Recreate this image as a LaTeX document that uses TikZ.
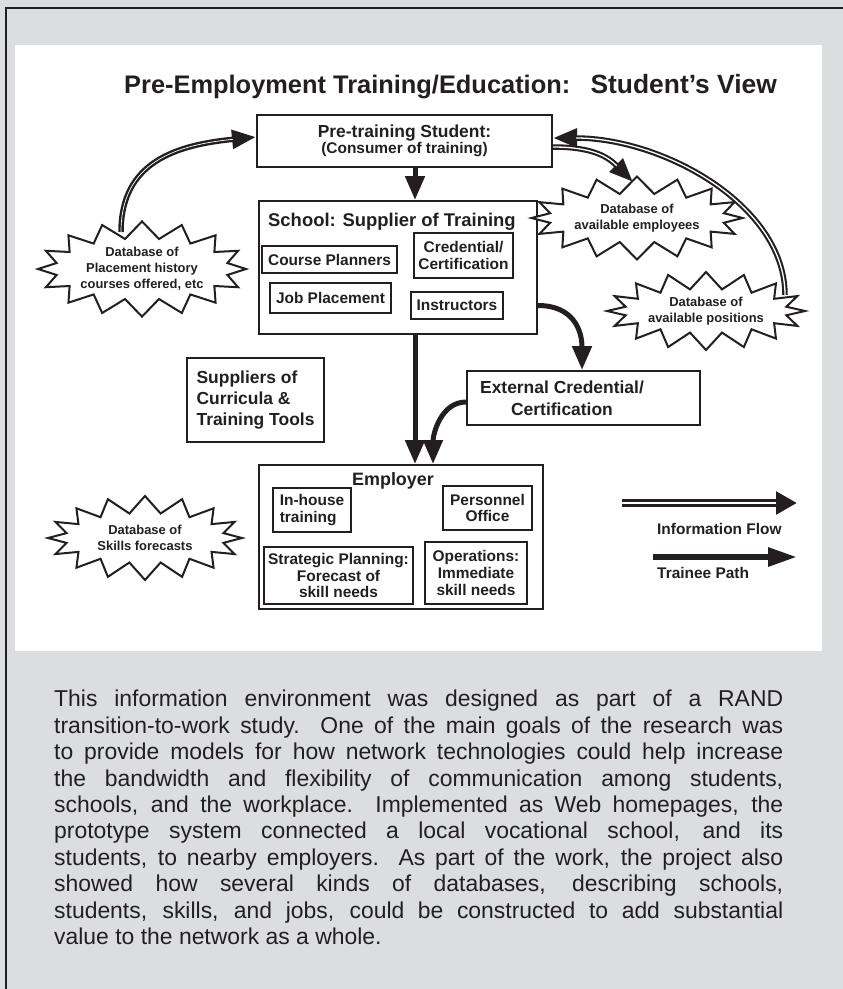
\documentclass[tikz,border=0pt]{standalone}
\usepackage{fontspec}
\setmainfont{Liberation Sans}
\usetikzlibrary{arrows.meta,shapes.symbols,calc}
\definecolor{bg}{RGB}{220,221,223}
\definecolor{ink}{RGB}{35,31,32}
\newcommand{\fs}[2]{\fontsize{#1}{#2}\selectfont}
\begin{document}
\begin{tikzpicture}[x=1bp,y=-1bp,
  box/.style={draw=ink, line width=2bp, fill=white, inner sep=0pt, text=ink, font=\bfseries, align=center},
  lbl/.style={inner sep=0pt, text=ink, font=\bfseries},
  sub/.style={box, font=\bfseries\fs{15.5}{18}},
  esub/.style={box, font=\bfseries\fs{15.5}{17}},
  burst/.style={starburst, starburst points=16, starburst point height=17bp, random starburst=0, draw=ink, line width=2bp, fill=white, inner sep=0pt, text=ink, align=center, font=\bfseries\fs{13}{16}},
  trainee/.style={draw=ink, line width=5bp, -{Triangle[length=24bp,width=19bp]}},
  infoA/.style={draw=ink, line width=5.5bp, -{Triangle[length=24bp,width=18bp]}},
  infoB/.style={draw=white, line width=1.3bp, shorten >=23bp},
  infoC/.style={draw=white, line width=0.7bp, shorten >=23bp}
]
\useasboundingbox (0,0) rectangle (843,989);
\fill[bg] (0,0) rectangle (843,989);
\fill[white] (15,45) rectangle (822,651);
\draw[ink, line width=2.5bp] (6,989) -- (6,8) -- (843,8);

% title
\node[lbl, anchor=base west, font=\bfseries\fs{25.5}{29}] (title) at (124,93) {Pre-Employment Training/Education:\hspace{0.8em}{\fs{26.5}{29}Student’s View}};

% student
\node[box, minimum width=295bp, minimum height=52bp] (top) at (404.5,141) {\fs{17.5}{20}Pre-training Student:\\\fs{15.5}{19}(Consumer of training)};

% school
\node[box, minimum width=278bp, minimum height=133bp] (school) at (398,267.5) {};
\node[lbl, anchor=west, font=\bfseries\fs{18.5}{22}] (schooltitle) at (268,222) {School: Supplier of Training};
\node[sub, minimum width=135bp, minimum height=27bp] (planners) at (329.5,259.5) {Course Planners};
\node[sub, minimum width=121bp, minimum height=30bp] (jobs) at (330.5,298) {Job Placement};
\node[sub, minimum width=99bp, minimum height=45bp] (cred) at (463.5,255.5) {Credential/\\Certification};
\node[sub, minimum width=92bp, minimum height=27bp] (instr) at (457,305.5) {Instructors};

% suppliers
\node[box, minimum width=137bp, minimum height=84bp, align=left, font=\bfseries\fs{17.5}{21}] (suppliers) at (255.5,400) {Suppliers of\\Curricula \&\\Training Tools};

% external
\node[box, minimum width=233bp, minimum height=54bp] (ext) at (583.5,398) {};
\node[lbl, align=center, font=\bfseries\fs{17.5}{22.5}] (exttext) at (562,398) {External Credential/\\Certification};

% employer
\node[box, minimum width=284bp, minimum height=144bp] (employer) at (401,537) {};
\node[lbl, font=\bfseries\fs{18}{21}] (emptitle) at (393,481) {Employer};
\node[esub, minimum width=78bp, minimum height=44bp, align=left] (inhouse) at (312,510) {In-house\\training};
\node[esub, minimum width=89bp, minimum height=44bp] (personnel) at (487.5,508) {Personnel\\Office};
\node[esub, minimum width=149bp, minimum height=57bp] (strategic) at (338.5,575.5) {Strategic Planning:\\Forecast of\\skill needs};
\node[esub, minimum width=102bp, minimum height=62bp] (operations) at (476,573) {Operations:\\Immediate\\skill needs};

% starbursts
\node[burst, minimum width=186bp, minimum height=84bp] (dbplace) at (142,269) {Database of\\Placement history\\courses offered, etc};
\node[burst, minimum width=186bp, minimum height=83bp] (dbemp) at (637,218) {Database of\\available employees};
\node[burst, minimum width=187bp, minimum height=78bp] (dbpos) at (706,311) {Database of\\available positions};
\node[burst, minimum width=194bp, minimum height=84bp] (dbskill) at (145,538) {Database of\\Skills forecasts};

% trainee path connectors
\coordinate (ax) at (415,0);
\draw[trainee] (ax |- top.south) -- (ax |- school.north);
\draw[trainee] (ax |- school.south) -- (ax |- employer.north);
\coordinate (ex) at (582,0);
\coordinate (i1) at (school.east |- instr.east);
\coordinate (i2) at (ex |- ext.north);
\draw[trainee] (i1) .. controls ($(i1)+(35,0)$) and ($(i2)+(0,-40)$) .. (i2);
\coordinate (ey) at (433,0);
\coordinate (e1) at ($(ext.west)+(0,4)$);
\coordinate (e2) at (ey |- employer.north);
\draw[trainee] (e1) .. controls ($(e1)+(-25,0)$) and ($(e2)+(0,-30)$) .. (e2);

% information flow connectors
\coordinate (p1) at ($(dbplace.center)+(-21,-37)$);
\coordinate (p2) at ($(top.west)+(0,-4)$);
\draw[infoA] (p1) .. controls ($(p1)+(0,-70)$) and ($(p2)+(-80,8)$) .. (p2);
\draw[infoC] (p1) .. controls ($(p1)+(0,-70)$) and ($(p2)+(-80,8)$) .. (p2);
\coordinate (m1) at ($(top.east)+(0,6)$);
\coordinate (m2) at ($(dbemp.center)+(-4,-36)$);
\draw[infoA] (m1) .. controls ($(m1)+(40,0)$) and ($(m2)+(-25,-25)$) .. (m2);
\draw[infoB] (m1) .. controls ($(m1)+(40,0)$) and ($(m2)+(-25,-25)$) .. (m2);
\coordinate (q1) at ($(dbpos.center)+(79,-16)$);
\coordinate (q2) at ($(top.east)+(0,-3)$);
\draw[infoA] (q1) .. controls ($(q1)+(0,-90)$) and ($(q2)+(110,0)$) .. (q2);
\draw[infoB] (q1) .. controls ($(q1)+(0,-90)$) and ($(q2)+(110,0)$) .. (q2);

% legend
\coordinate (if1) at (622,503);
\coordinate (if2) at (797,503);
\draw[ink, line width=8bp, -{Triangle[length=21bp,width=22bp]}] (if1) -- (if2);
\draw[white, line width=2.5bp, shorten >=21bp] (if1) -- (if2);
\node[lbl, anchor=west, font=\bfseries\fs{15.5}{18}] (iflbl) at (657,529) {Information Flow};
\coordinate (tp1) at (653,557);
\coordinate (tp2) at (797,557);
\draw[ink, line width=6bp, -{Triangle[length=29bp,width=18bp]}] (tp1) -- (tp2);
\node[lbl, anchor=west, font=\bfseries\fs{15.5}{18}] (tplbl) at (657,573) {Trainee Path};

% paragraph
\node[anchor=north west, inner sep=0pt, text=ink, align=left, font=\fs{23}{26.5}] (para) at (54,690) {%
\makebox[729bp][s]{This information environment was designed as part of a RAND}\\
\makebox[729bp][s]{transition-to-work study.\ \ One of the main goals of the research was}\\
\makebox[729bp][s]{to provide models for how network technologies could help increase}\\
\makebox[729bp][s]{the bandwidth and flexibility of communication among students,}\\
\makebox[729bp][s]{schools, and the workplace.\ \ Implemented as Web homepages, the}\\
\makebox[729bp][s]{prototype system connected a local vocational school, and its}\\
\makebox[729bp][s]{students, to nearby employers.\ \ As part of the work, the project also}\\
\makebox[729bp][s]{showed how several kinds of databases, describing schools,}\\
\makebox[729bp][s]{students, skills, and jobs, could be constructed to add substantial}\\
value to the network as a whole.};
\end{tikzpicture}
\end{document}
